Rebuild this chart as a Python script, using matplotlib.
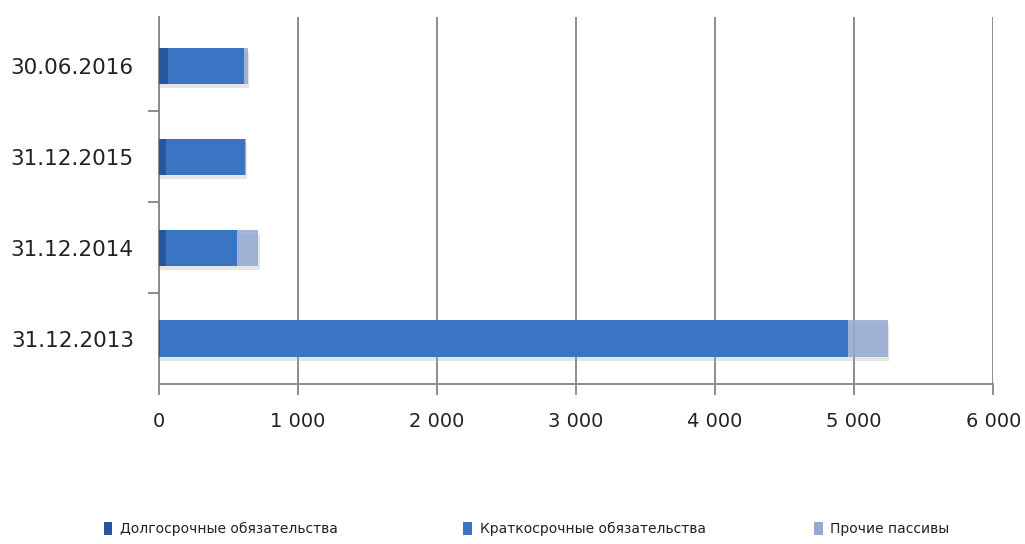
import numpy as np
import matplotlib.pyplot as plt
import matplotlib.patheffects as pe
from matplotlib.patches import Rectangle
from matplotlib.ticker import FuncFormatter

dates = ["31.12.2013", "31.12.2014", "31.12.2015", "30.06.2016"]
long_term = [5, 50, 50, 67]
short_term = [4950, 509, 571, 547]
other = [285, 155, 5, 24]

series_names = [
    "Долгосрочные обязательства",
    "Краткосрочные обязательства",
    "Прочие пассивы",
]
colors = ["#27569a", "#3a75c4", "#93a8d2"]
alphas = [1.0, 1.0, 0.85]

fig = plt.figure(figsize=(10.25, 5.44), dpi=100)
ax = fig.add_axes([0.155, 0.294, 0.814, 0.675])

y = np.arange(len(dates))
shadow = [pe.SimplePatchShadow(offset=(1, -3), shadow_rgbFace="#aaaaaa", alpha=0.3), pe.Normal()]

left = np.zeros(len(dates))
for vals, col, a in zip([long_term, short_term, other], colors, alphas):
    bars = ax.barh(y, vals, left=left, height=0.4, color=col, alpha=a,
                   edgecolor="none", zorder=3 if a == 1.0 else 4)
    for b in bars:
        b.set_path_effects(shadow)
    left += np.array(vals)

ax.set_xlim(0, 6000)
ax.set_ylim(-0.5, len(dates) - 0.46)
ax.set_xticks(np.arange(0, 6001, 1000))
ax.xaxis.set_major_formatter(FuncFormatter(lambda v, p: f"{int(v):,}".replace(",", " ")))
ax.set_yticks(y)
ax.set_yticklabels(dates)
ax.set_yticks(np.arange(0.5, len(dates) - 1, 1.0), minor=True)

ax.grid(axis="x", color="#8c8c8c", linewidth=1.4, zorder=0)
for s in ["top", "right"]:
    ax.spines[s].set_visible(False)
for s in ["left", "bottom"]:
    ax.spines[s].set_color("#8c8c8c")
    ax.spines[s].set_linewidth(1.4)

ax.tick_params(axis="x", length=8, width=1.4, color="#8c8c8c", labelsize=14,
               labelcolor="#222222", pad=12)
ax.tick_params(axis="y", which="major", length=0, labelsize=15.5, labelcolor="#222222", pad=18)
ax.tick_params(axis="y", which="minor", length=8, width=1.4, color="#8c8c8c")

# legend drawn as separate squares and labels
legend_x = [0.101, 0.452, 0.794]
for lx, name, col in zip(legend_x, series_names, colors):
    fig.patches.append(Rectangle((lx, 0.0165), 0.0085, 0.024, transform=fig.transFigure,
                                 facecolor=col, edgecolor="none"))
    fig.text(lx + 0.016, 0.027, name, fontsize=10, color="#222222", va="center", ha="left")

fig.savefig("out.png", dpi=100)
